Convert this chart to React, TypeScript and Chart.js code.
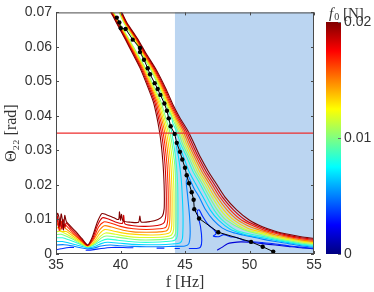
import { useEffect, useRef } from 'react';
import { Chart, registerables } from 'chart.js';
Chart.register(...registerables);

const X_TICKS = [35, 40, 45, 50, 55];
const Y_TICKS = [0, 0.01, 0.02, 0.03, 0.04, 0.05, 0.06, 0.07];
const CBAR_TICKS = [0, 0.01, 0.02];
const F0_MAX = 0.02;
const SHADE_FROM = 44.22;
const SHADE_TO = 55;
const THRESHOLD = 0.035;

// forcing amplitudes (N) of the curves c1..c12
const F0 = [0.0017, 0.0033, 0.005, 0.0067, 0.0083, 0.01, 0.0117, 0.0133, 0.015, 0.0167, 0.0183, 0.02];

type P = [number, number | null];

const c12: P[] = [
  [35.0, 0.0100], [35.12, 0.0118], [35.22, 0.0108], [35.3, 0.0080], [35.4, 0.0116], [35.5, 0.0098], [35.58, 0.0070], [35.68, 0.0112], [35.8, 0.0094], [36.0, 0.0086], [36.5, 0.0066], [37.0, 0.0045], [37.45, 0.0026], [37.8, 0.0048], [38.2, 0.0092], [38.55, 0.0117], [38.9, 0.0114], [39.5, 0.0105], [39.85, 0.0100], [39.92, 0.0122], [40.0, 0.0098], [40.08, 0.0115], [40.2, 0.0096], [40.8, 0.0092], [41.4, 0.0092], [41.5, 0.0110], [41.6, 0.0093], [42.3, 0.0094], [42.9, 0.0100], [43.25, 0.0110], [43.38, 0.0130],
  [43.40, 0.016], [43.38, 0.020], [43.30, 0.026], [43.15, 0.032], [43.00, 0.036], [42.80, 0.040], [42.55, 0.044], [42.05, 0.049], [41.50, 0.054], [40.95, 0.058], [40.40, 0.062], [39.90, 0.0655], [39.40, 0.069], [38.85, 0.073], [38.8, 0.079],
  [39.85, 0.079], [39.80, 0.073], [40.05, 0.0705], [40.50, 0.067], [41.30, 0.0625], [42.00, 0.058], [42.75, 0.0535], [43.50, 0.048], [44.10, 0.043], [44.60, 0.0395], [45.25, 0.0355], [45.70, 0.032], [46.20, 0.028], [46.80, 0.024], [47.40, 0.0205], [48.10, 0.0165], [49.00, 0.0128], [50.00, 0.0098],
  [51, 0.0079], [52, 0.0066], [53, 0.0057], [54, 0.0050], [55, 0.0045],
];
const c11: P[] = [
  [35, 0.0092], [35.1, 0.0110], [35.2, 0.0076], [35.32, 0.0104], [35.45, 0.0072], [35.55, 0.0100], [35.7, 0.0078], [35.8, 0.0090], [36.2, 0.0072], [36.8, 0.0050], [37.45, 0.0025], [37.85, 0.0046], [38.2, 0.0082], [38.6, 0.0105], [39.0, 0.0102], [39.6, 0.0093], [40.15, 0.0089], [40.25, 0.0112], [40.35, 0.0087], [41.0, 0.0082], [41.8, 0.0080], [42.5, 0.0081], [43.1, 0.0085], [43.4, 0.0092], [43.52, 0.0115],
  [43.55, 0.016], [43.53, 0.020], [43.45, 0.026], [43.29, 0.032], [43.13, 0.036], [42.91, 0.040], [42.65, 0.044], [42.13, 0.049], [41.57, 0.054], [41.01, 0.058], [40.45, 0.062], [39.94, 0.0655], [39.44, 0.069], [38.89, 0.073], [38.84, 0.079],
  [39.82, 0.079], [39.77, 0.073], [40.02, 0.0705], [40.46, 0.067], [41.25, 0.0625], [41.94, 0.058], [42.68, 0.0535], [43.42, 0.048], [44.01, 0.043], [44.50, 0.0395], [45.12, 0.0355], [45.55, 0.032], [46.05, 0.028], [46.63, 0.024], [47.22, 0.0205], [47.90, 0.0165], [48.75, 0.0128], [49.70, 0.0098],
  [51, 0.0075], [52, 0.0063], [53, 0.0054], [54, 0.0047], [55, 0.0042],
];
const c10: P[] = [
  [35, 0.0085], [35.12, 0.0100], [35.25, 0.0068], [35.4, 0.0095], [35.55, 0.0075], [35.7, 0.0085], [36.2, 0.0066], [36.8, 0.0045], [37.45, 0.0024], [37.9, 0.0044], [38.3, 0.0078], [38.7, 0.0093], [39.2, 0.0090], [40.0, 0.0080], [41.0, 0.0073], [42.0, 0.0071], [43.0, 0.0073], [43.5, 0.0077], [43.66, 0.0098],
  [43.70, 0.016], [43.68, 0.020], [43.60, 0.026], [43.43, 0.032], [43.26, 0.036], [43.02, 0.040], [42.75, 0.044], [42.21, 0.049], [41.64, 0.054], [41.07, 0.058], [40.50, 0.062], [39.98, 0.0655], [39.47, 0.069], [38.92, 0.073], [38.87, 0.079],
  [39.78, 0.079], [39.73, 0.073], [39.98, 0.0705], [40.42, 0.067], [41.20, 0.0625], [41.88, 0.058], [42.61, 0.0535], [43.34, 0.048], [43.92, 0.043], [44.40, 0.0395], [44.99, 0.0355], [45.40, 0.032], [45.90, 0.028], [46.46, 0.024], [47.04, 0.0205], [47.70, 0.0165], [48.50, 0.0128], [49.40, 0.0098],
  [51, 0.0071], [52, 0.0060], [53, 0.0051], [54, 0.0044], [55, 0.0039],
];
const c9: P[] = [
  [35, 0.0078], [35.15, 0.0088], [35.3, 0.0070], [35.5, 0.0082], [35.8, 0.0072], [36.3, 0.0058], [36.9, 0.0040], [37.45, 0.0024], [37.9, 0.0040], [38.35, 0.0068], [38.75, 0.0082], [39.3, 0.0078], [40.2, 0.0069], [41.0, 0.0064], [42.0, 0.0063], [43.0, 0.0064], [43.6, 0.0068], [43.8, 0.0088],
  [43.85, 0.016], [43.83, 0.020], [43.75, 0.026], [43.57, 0.032], [43.39, 0.036], [43.13, 0.040], [42.85, 0.044], [42.29, 0.049], [41.71, 0.054], [41.13, 0.058], [40.55, 0.062], [40.02, 0.0655], [39.51, 0.069], [38.96, 0.073], [38.91, 0.079],
  [39.75, 0.079], [39.70, 0.073], [39.95, 0.0705], [40.38, 0.067], [41.15, 0.0625], [41.82, 0.058], [42.54, 0.0535], [43.26, 0.048], [43.83, 0.043], [44.30, 0.0395], [44.86, 0.0355], [45.25, 0.032], [45.75, 0.028], [46.29, 0.024], [46.86, 0.0205], [47.50, 0.0165], [48.25, 0.0128], [49.10, 0.0098],
  [50.1, 0.0078], [51, 0.0067], [52, 0.0056], [53, 0.0048], [54, 0.0041], [55, 0.0036],
];
const c8: P[] = [
  [35, 0.0072], [35.2, 0.0078], [35.4, 0.0066], [35.8, 0.0065], [36.3, 0.0052], [36.9, 0.0036], [37.45, 0.0023], [37.95, 0.0036], [38.4, 0.0060], [38.8, 0.0071], [39.5, 0.0066], [40.5, 0.0059], [41.5, 0.0056], [42.5, 0.0055], [43.5, 0.0058], [43.85, 0.0063], [43.97, 0.0082],
  [44.00, 0.016], [43.98, 0.020], [43.90, 0.026], [43.71, 0.032], [43.52, 0.036], [43.24, 0.040], [42.95, 0.044], [42.37, 0.049], [41.78, 0.054], [41.19, 0.058], [40.60, 0.062], [40.06, 0.0655], [39.54, 0.069], [38.99, 0.073], [38.94, 0.079],
  [39.71, 0.079], [39.66, 0.073], [39.91, 0.0705], [40.34, 0.067], [41.10, 0.0625], [41.76, 0.058], [42.47, 0.0535], [43.18, 0.048], [43.74, 0.043], [44.20, 0.0395], [44.73, 0.0355], [45.10, 0.032], [45.60, 0.028], [46.12, 0.024], [46.68, 0.0205], [47.30, 0.0165], [48.00, 0.0128], [48.80, 0.0098],
  [49.9, 0.0074], [51, 0.0063], [52, 0.0052], [53, 0.0045], [54, 0.0038], [55, 0.0033],
];
const c7: P[] = [
  [35, 0.0064], [35.3, 0.0066], [35.8, 0.0058], [36.3, 0.0047], [36.9, 0.0033], [37.45, 0.0022], [38.0, 0.0033], [38.45, 0.0052], [38.85, 0.0061], [39.6, 0.0057], [40.5, 0.0051], [41.5, 0.0048], [42.5, 0.0048], [43.5, 0.0050], [43.95, 0.0055], [44.12, 0.0072],
  [44.15, 0.016], [44.13, 0.020], [44.05, 0.026], [43.85, 0.032], [43.65, 0.036], [43.35, 0.040], [43.05, 0.044], [42.45, 0.049], [41.85, 0.054], [41.25, 0.058], [40.65, 0.062], [40.10, 0.0655], [39.58, 0.069], [39.03, 0.073], [38.98, 0.079],
  [39.68, 0.079], [39.63, 0.073], [39.88, 0.0705], [40.30, 0.067], [41.05, 0.0625], [41.70, 0.058], [42.40, 0.0535], [43.10, 0.048], [43.65, 0.043], [44.10, 0.0395], [44.60, 0.0355], [44.95, 0.032], [45.45, 0.028], [45.95, 0.024], [46.50, 0.0205], [47.10, 0.0165], [47.75, 0.0128], [48.50, 0.0098],
  [49.7, 0.0071], [51, 0.0059], [52, 0.0049], [53, 0.0042], [54, 0.0035], [55, 0.0030],
];
const c6: P[] = [
  [35, 0.0056], [35.4, 0.0057], [35.9, 0.0050], [36.4, 0.0041], [36.9, 0.0030], [37.45, 0.0021], [38.0, 0.0030], [38.5, 0.0046], [38.9, 0.0052], [39.7, 0.0049], [40.6, 0.0044], [41.5, 0.0041], [42.5, 0.0041], [43.5, 0.0043], [44.05, 0.0047], [44.27, 0.0062],
  [44.30, 0.016], [44.28, 0.020], [44.20, 0.026], [43.99, 0.032], [43.78, 0.036], [43.46, 0.040], [43.15, 0.044], [42.53, 0.049], [41.92, 0.054], [41.31, 0.058], [40.70, 0.062], [40.14, 0.0655], [39.61, 0.069], [39.06, 0.073], [39.01, 0.079],
  [39.64, 0.079], [39.59, 0.073], [39.84, 0.0705], [40.26, 0.067], [41.00, 0.0625], [41.64, 0.058], [42.33, 0.0535], [43.02, 0.048], [43.56, 0.043], [44.00, 0.0395], [44.47, 0.0355], [44.80, 0.032], [45.30, 0.028], [45.78, 0.024], [46.32, 0.0205], [46.90, 0.0165], [47.50, 0.0128], [48.20, 0.0098],
  [49.5, 0.0071], [51, 0.0055], [52, 0.0046], [53, 0.0039], [54, 0.0032], [55, 0.0028],
];
const c5: P[] = [
  [35, 0.0047], [35.5, 0.0047], [36.0, 0.0041], [36.5, 0.0034], [37.0, 0.0026], [37.45, 0.0020], [38.0, 0.0027], [38.5, 0.0038], [39.0, 0.0043], [39.8, 0.0040], [40.7, 0.0036], [41.5, 0.0034], [42.5, 0.0034], [43.5, 0.0036], [44.2, 0.0040], [44.40, 0.0052],
  [44.45, 0.010], [44.45, 0.016], [44.43, 0.020], [44.33, 0.026], [44.12, 0.032], [43.93, 0.036], [43.75, 0.039], [43.80, 0.041], [43.92, 0.0405], [44.05, 0.038],
  [44.34, 0.0355], [44.65, 0.032], [45.15, 0.028], [45.61, 0.024], [46.14, 0.0205], [46.70, 0.0165], [47.25, 0.0128], [47.90, 0.0098],
  [49.0, 0.0068], [50.0, 0.0058], [51, 0.0051], [52, 0.0043], [53, 0.0036], [54, 0.0029], [55, 0.0025],
];
const c4: P[] = [
  [35, 0.0036], [35.5, 0.0036], [36.0, 0.0032], [36.6, 0.0026], [37.1, 0.0021], [37.5, 0.0018], [38.0, 0.0022], [38.5, 0.0030], [39.0, 0.0034], [40.0, 0.0031], [41.0, 0.0028], [42.0, 0.0027], [43.0, 0.0027], [44.0, 0.0029], [44.6, 0.0032], [44.8, 0.0045],
  [44.85, 0.010], [44.80, 0.016], [44.70, 0.022], [44.50, 0.028], [44.35, 0.031], [44.45, 0.0325], [44.60, 0.031],
  [44.90, 0.028], [45.30, 0.024], [45.80, 0.0205], [46.40, 0.0165], [46.95, 0.0128], [47.60, 0.0098],
  [48.5, 0.0072], [49.5, 0.0058], [50.2, 0.0052], [51, 0.0047], [52, 0.0040], [53, 0.0033], [54, 0.0027], [55, 0.0022],
];
const c3: P[] = [
  [35, 0.0026], [35.6, 0.0027], [36.2, 0.0024], [36.8, 0.0019], [37.4, 0.0015], [37.9, 0.0017], [38.5, 0.0023], [39.2, 0.0026], [40.0, 0.0024], [41.0, 0.0022], [42.0, 0.0021], [43.0, 0.0021], [44.0, 0.0022], [45.0, 0.0023], [45.3, 0.0030],
  [45.40, 0.006], [45.35, 0.011], [45.20, 0.017], [45.10, 0.021], [45.25, 0.0225], [45.45, 0.021],
  [45.70, 0.019], [46.10, 0.0165], [46.60, 0.0128], [47.20, 0.0098], [47.90, 0.0075], [48.70, 0.0062], [49.5, 0.0055], [50.3, 0.0049],
  [51, 0.0043], [52, 0.0036], [53, 0.0030], [54, 0.0024], [55, 0.0019],
];
const c2: P[] = [
  [35, 0.0012], [35.4, 0.0015], [36.0, 0.0019], [36.4, 0.0019], [36.6, null],
  [37.3, 0.0011], [37.8, 0.0012], [38.5, 0.0016], [39.3, 0.0019], [40.2, 0.0019], [41.0, 0.0018], [41.5, null],
  [42.8, 0.0017], [43.4, 0.0017], [43.8, null],
  [44.2, 0.0016], [44.6, 0.0016], [44.9, null],
  [45.3, 0.0016], [45.9, 0.0016], [46.2, 0.0020], [46.3, 0.0040], [46.2, 0.0080], [46.0, 0.0110], [45.95, 0.0125], [46.1, 0.0128], [46.35, 0.0110], [46.8, 0.0085], [47.3, 0.0068], [47.4, 0.0058], [47.2, 0.0052], [47.6, 0.0050], [48.0, 0.0056], [48.5, 0.0050], [49.0, 0.0048], [49.5, 0.0040], [50.0, 0.0037],
  [51, 0.0033], [52, 0.0029], [53, 0.0024], [54, 0.0020], [55, 0.0016],
];
const c1: P[] = [
  [47.5, 0.0011], [47.9, 0.0020], [48.3, 0.0030], [48.7, 0.0033], [49.3, 0.0035], [50.0, 0.0034], [51, 0.0030], [52, 0.0026], [53, 0.0022], [54, 0.0018], [55, 0.0015],
];
const CURVES = [c1, c2, c3, c4, c5, c6, c7, c8, c9, c10, c11, c12];

// backbone curve (black dots)
const BACKBONE: P[] = [
  [39.71, 0.0685], [39.91, 0.0671], [40.02, 0.0654], [40.40, 0.0652], [40.95, 0.0621], [41.51, 0.0597], [41.51, 0.0585], [41.82, 0.0563], [42.11, 0.0538], [42.29, 0.0521], [42.65, 0.0495], [42.88, 0.0478], [43.09, 0.0461], [43.40, 0.0436], [43.60, 0.0415], [43.74, 0.0393], [43.89, 0.0370], [44.20, 0.0348], [44.36, 0.0322], [44.61, 0.0296], [44.79, 0.0274], [45.00, 0.0250], [45.13, 0.0228], [45.31, 0.0205], [45.52, 0.0179], [45.67, 0.0157], [45.72, 0.0130], [46.09, 0.0103], [47.58, 0.0063], [50.12, 0.0035], [51.02, 0.0021], [51.84, 0.0007],
];

function jet(t: number): string {
  const c = (v: number) => Math.round(255 * Math.max(0, Math.min(1, v)));
  return `rgb(${c(1.5 - Math.abs(4 * t - 3))},${c(1.5 - Math.abs(4 * t - 2))},${c(1.5 - Math.abs(4 * t - 1))})`;
}

const toXY = (arr: P[]) => arr.map(([x, y]) => ({ x, y }));

const decorPlugin = {
  id: 'decor',
  beforeDatasetsDraw(chart: any) {
    const { ctx, chartArea, scales } = chart;
    const x0 = scales.x.getPixelForValue(SHADE_FROM);
    const x1 = scales.x.getPixelForValue(SHADE_TO);
    ctx.save();
    ctx.fillStyle = 'rgb(187,213,241)';
    ctx.fillRect(x0, chartArea.top, x1 - x0, chartArea.bottom - chartArea.top);
    ctx.restore();
  },
  afterDatasetsDraw(chart: any) {
    const { ctx, chartArea: a, scales } = chart;
    ctx.save();
    ctx.strokeStyle = '#4a4a4a';
    ctx.lineWidth = 1;
    ctx.strokeRect(a.left + 0.5, a.top + 0.5, a.right - a.left - 1, a.bottom - a.top - 1);
    ctx.beginPath();
    const tl = 3;
    X_TICKS.forEach((v) => {
      const px = Math.round(scales.x.getPixelForValue(v)) + 0.5;
      ctx.moveTo(px, a.bottom); ctx.lineTo(px, a.bottom - tl);
      ctx.moveTo(px, a.top); ctx.lineTo(px, a.top + tl);
    });
    Y_TICKS.forEach((v) => {
      const py = Math.round(scales.y.getPixelForValue(v)) + 0.5;
      ctx.moveTo(a.left, py); ctx.lineTo(a.left + tl, py);
      ctx.moveTo(a.right, py); ctx.lineTo(a.right - tl, py);
    });
    ctx.stroke();

    // colorbar
    const cbL = 326, cbR = 341, cbT = 22, cbB = 254;
    const g = ctx.createLinearGradient(0, cbB, 0, cbT);
    for (let i = 0; i <= 32; i++) g.addColorStop(i / 32, jet(i / 32));
    ctx.fillStyle = g;
    ctx.fillRect(cbL, cbT, cbR - cbL, cbB - cbT);
    ctx.strokeStyle = '#6a6a6a';
    ctx.beginPath();
    ctx.font = '14px "Liberation Sans", Arial, sans-serif';
    ctx.fillStyle = '#333';
    ctx.textBaseline = 'middle';
    ctx.textAlign = 'left';
    CBAR_TICKS.forEach((v) => {
      const py = Math.round(cbB - (v / F0_MAX) * (cbB - cbT)) + 0.5;
      ctx.moveTo(cbR - 3, py); ctx.lineTo(cbR, py);
      ctx.fillText(v === 0 ? '0' : String(v), cbR + 3, py);
    });
    ctx.stroke();
    // colorbar title f0 [N]
    ctx.textBaseline = 'alphabetic';
    ctx.fillStyle = '#333';
    let tx = 329;
    const ty = 18;
    ctx.font = 'italic 15px "Liberation Serif", serif';
    ctx.fillText('f', tx, ty);
    tx += ctx.measureText('f').width + 1;
    ctx.font = '10px "Liberation Serif", serif';
    ctx.fillText('0', tx, ty + 2);
    tx += ctx.measureText('0').width;
    ctx.font = '15px "Liberation Serif", serif';
    ctx.fillText(' [N]', tx, ty);
    ctx.restore();
  },
};

export default function App() {
  const ref = useRef<HTMLCanvasElement | null>(null);
  useEffect(() => {
    if (!ref.current) return;
    const curveSets = CURVES.map((arr, i) => ({
      label: `f0 = ${F0[i]}`,
      data: toXY(arr),
      showLine: true,
      borderColor: jet(F0[i] / F0_MAX),
      borderWidth: 1.1,
      pointRadius: 0,
      tension: 0.25,
      spanGaps: false,
    })).reverse();
    const chart = new Chart(ref.current, {
      type: 'scatter',
      data: {
        datasets: [
          {
            label: 'backbone',
            data: toXY(BACKBONE),
            showLine: true,
            borderColor: '#000',
            backgroundColor: '#000',
            borderWidth: 1,
            pointRadius: 2.2,
            pointBorderWidth: 0,
            tension: 0,
          },
          {
            label: 'threshold',
            data: [{ x: 35, y: THRESHOLD }, { x: 55, y: THRESHOLD }],
            showLine: true,
            borderColor: 'rgb(238,45,45)',
            borderWidth: 1.3,
            pointRadius: 0,
          },
          ...curveSets,
        ],
      },
      options: {
        animation: false,
        responsive: true,
        maintainAspectRatio: false,
        layout: { padding: { left: 0, top: 8, right: 60, bottom: 0 } },
        plugins: { legend: { display: false }, tooltip: { enabled: false } },
        scales: {
          x: {
            type: 'linear',
            min: 35,
            max: 55,
            afterBuildTicks: (s: any) => { s.ticks = X_TICKS.map((v) => ({ value: v })); },
            afterFit: (s: any) => { s.height = 38; },
            grid: { display: false, drawTicks: false },
            border: { display: false },
            ticks: { font: { family: '"Liberation Sans", Arial, sans-serif', size: 14 }, color: '#333', padding: 3, maxRotation: 0, callback: (v: any) => String(v) },
            title: { display: true, text: 'f [Hz]', font: { family: '"Liberation Serif", serif', size: 16 }, color: '#333', padding: 0 },
          },
          y: {
            type: 'linear',
            min: 0,
            max: 0.07,
            afterBuildTicks: (s: any) => { s.ticks = Y_TICKS.map((v) => ({ value: v })); },
            afterFit: (s: any) => { s.width = 56; },
            grid: { display: false, drawTicks: false },
            border: { display: false },
            ticks: { font: { family: '"Liberation Sans", Arial, sans-serif', size: 14 }, color: '#333', padding: 4, callback: (v: any) => (v === 0 ? '0' : String(v)) },
            title: { display: true, text: 'Θ₂₂ [rad]', font: { family: '"Liberation Serif", serif', size: 16 }, color: '#333', padding: { top: 2, bottom: 0 } },
          },
        },
      },
      plugins: [decorPlugin],
    });
    return () => chart.destroy();
  }, []);
  return (
    <div style={{ position: 'fixed', left: 0, top: 0, width: 374, height: 292, background: '#fff' }}>
      <canvas ref={ref} />
    </div>
  );
}
